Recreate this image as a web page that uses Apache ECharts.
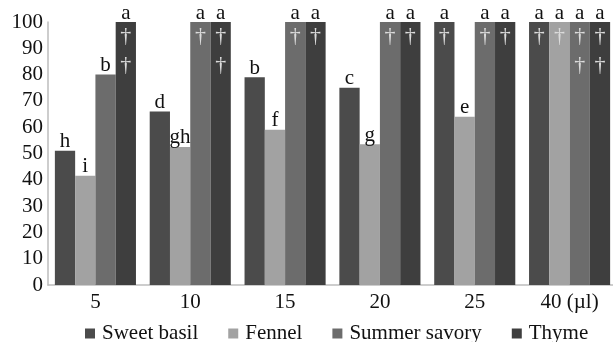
<!DOCTYPE html>
<html><head><meta charset="utf-8">
<script src="https://cdn.jsdelivr.net/npm/echarts@6/dist/echarts.min.js"></script>
<style>html,body{margin:0;padding:0;background:#fff}#c{width:613px;height:342px}</style>
</head><body><div id="c"></div>
<script>
const categories = ['5', '10', '15', '20', '25', '40 (\u00b5l)'];
const seriesNames = ['Sweet basil', 'Fennel', 'Summer savory', 'Thyme'];
const sweetBasil = [51, 66, 79, 75, 100, 100];
const fennel = [41.5, 52.5, 59, 53.5, 64, 100];
const summerSavory = [80, 100, 100, 100, 100, 100];
const thyme = [100, 100, 100, 100, 100, 100];
const lettersBasil = ['h', 'd', 'b', 'c', 'a', 'a'];
const lettersFennel = ['i', 'gh', 'f', 'g', 'e', 'a'];
const lettersSavory = ['b', 'a', 'a', 'a', 'a', 'a'];
const lettersThyme = ['a', 'a', 'a', 'a', 'a', 'a'];
const daggersBasil = [0, 0, 0, 0, 1, 1];
const daggersFennel = [0, 0, 0, 0, 0, 1];
const daggersSavory = [0, 1, 1, 1, 1, 2];
const daggersThyme = [2, 2, 1, 1, 1, 2];
const yTicks = [0, 10, 20, 30, 40, 50, 60, 70, 80, 90, 100];

const values = [sweetBasil, fennel, summerSavory, thyme];
const letters = [lettersBasil, lettersFennel, lettersSavory, lettersThyme];
const daggers = [daggersBasil, daggersFennel, daggersSavory, daggersThyme];
const colors = ['#4b4b4b', '#a2a2a2', '#6c6c6c', '#3e3e3e'];
const FONT = '"Liberation Serif", "Times New Roman", serif';

const chart = echarts.init(document.getElementById('c'), null, {renderer: 'canvas'});
chart.setOption({
  animation: false,
  textStyle: {fontFamily: FONT},
  grid: {left: 48, top: 22, width: 569, height: 263, containLabel: false, outerBoundsMode: 'none'},
  xAxis: {
    type: 'category', data: categories,
    axisLine: {lineStyle: {color: '#bdbdbd', width: 1.5}},
    axisTick: {show: false},
    axisLabel: {color: '#111', fontSize: 21, fontFamily: FONT, margin: 7}
  },
  yAxis: {
    type: 'value', min: 0, max: 100, interval: 10,
    axisLine: {show: true, lineStyle: {color: '#bdbdbd', width: 1.5}},
    axisTick: {show: false},
    splitLine: {show: false},
    axisLabel: {color: '#111', fontSize: 21, fontFamily: FONT, margin: 5,
      formatter: v => yTicks.includes(v) ? String(v) : ''}
  },
  legend: {
    top: 318, left: 80,
    itemWidth: 10, itemHeight: 10, itemGap: 30,
    icon: 'rect',
    textStyle: {fontSize: 21, fontFamily: FONT, color: '#111', padding: [0, 0, 0, 2]},
    data: seriesNames
  },
  series: seriesNames.map((name, si) => ({
    name, type: 'bar', barGap: '0%', barCategoryGap: '14.5%',
    itemStyle: {color: colors[si]},
    data: values[si],
    label: {
      show: true,
      position: ['50%', -18],
      align: 'center', verticalAlign: 'top',
      formatter: p => {
        let s = '{l|' + letters[si][p.dataIndex] + '}';
        for (let k = 0; k < daggers[si][p.dataIndex]; k++) s += '\n{d|\u2020}';
        return s;
      },
      rich: {
        l: {fontSize: 21, fontFamily: FONT, color: '#111', lineHeight: 18, align: 'center'},
        d: {fontSize: 22, fontFamily: FONT, color: '#dcdcdc', lineHeight: 29, align: 'center'}
      }
    }
  }))
});
</script></body></html>
